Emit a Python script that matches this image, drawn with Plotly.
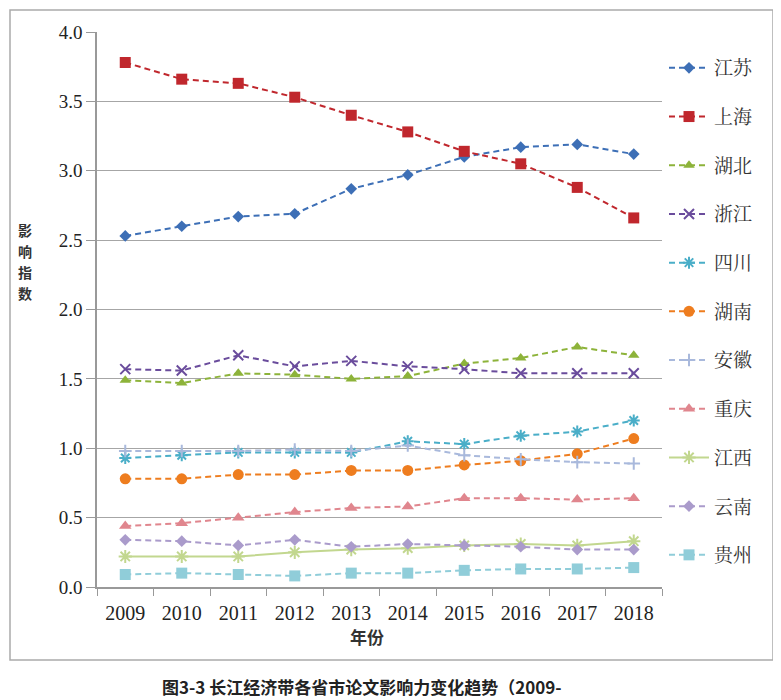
import plotly.graph_objects as go

years = ["2009", "2010", "2011", "2012", "2013", "2014", "2015", "2016", "2017", "2018"]

jiangsu = [2.53, 2.60, 2.67, 2.69, 2.87, 2.97, 3.10, 3.17, 3.19, 3.12]
shanghai = [3.78, 3.66, 3.63, 3.53, 3.40, 3.28, 3.14, 3.05, 2.88, 2.66]
hubei = [1.49, 1.47, 1.54, 1.53, 1.50, 1.52, 1.61, 1.65, 1.73, 1.67]
zhejiang = [1.57, 1.56, 1.67, 1.59, 1.63, 1.59, 1.57, 1.54, 1.54, 1.54]
sichuan = [0.93, 0.95, 0.97, 0.97, 0.97, 1.05, 1.03, 1.09, 1.12, 1.20]
hunan = [0.78, 0.78, 0.81, 0.81, 0.84, 0.84, 0.88, 0.91, 0.96, 1.07]
anhui = [0.98, 0.98, 0.98, 0.99, 0.98, 1.02, 0.95, 0.92, 0.90, 0.89]
chongqing = [0.44, 0.46, 0.50, 0.54, 0.57, 0.58, 0.64, 0.64, 0.63, 0.64]
jiangxi = [0.22, 0.22, 0.22, 0.25, 0.27, 0.28, 0.30, 0.31, 0.30, 0.33]
yunnan = [0.34, 0.33, 0.30, 0.34, 0.29, 0.31, 0.30, 0.29, 0.27, 0.27]
guizhou = [0.09, 0.10, 0.09, 0.08, 0.10, 0.10, 0.12, 0.13, 0.13, 0.14]

names = ["江苏", "上海", "湖北", "浙江", "四川", "湖南", "安徽", "重庆", "江西", "云南", "贵州"]
series = [jiangsu, shanghai, hubei, zhejiang, sichuan, hunan, anhui, chongqing, jiangxi, yunnan, guizhou]
ytitle_chars = ["影", "响", "指", "数"]

colors = ["#3d6fb6", "#c0272d", "#8db33a", "#6a4c9c", "#4aaec8", "#ee7d1f",
          "#a9b9dc", "#e0868e", "#c2d78f", "#aa9bcb", "#90cdd9"]
symbols = ["diamond", "square", "triangle-up", "x-thin-open", "asterisk-open", "circle",
           "cross-thin-open", "triangle-up", "asterisk-open", "diamond", "square"]
sizes = [9, 11, 10, 10, 10, 11, 9, 11, 11, 9, 11]
dashes = ["6px,4px"] * 8 + ["solid", "6px,4px", "6px,4px"]

# page offset of the plotly div (body margin)
OFF = 8
PL, PR, PT, PB = 97, 662, 32, 587   # plot area in page pixels
W, H = 781 - OFF, 700 - OFF
pw, ph = PR - PL, PB - PT


def px(xp):
    return (xp - PL) / pw


def py(yp):
    return (PB - yp) / ph


fig = go.Figure()
for i, (nm, vals) in enumerate(zip(names, series)):
    open_sym = symbols[i].endswith("open")
    fig.add_trace(go.Scatter(
        x=years, y=vals, name=nm, mode="lines+markers",
        legendgroup=nm,
        line=dict(color=colors[i], width=2, dash=dashes[i]),
        marker=dict(symbol=symbols[i], size=sizes[i], color=colors[i],
                    line=dict(color=colors[i], width=2 if open_sym else 0)),
    ))

serif = "Liberation Serif, DejaVu Serif, serif"
cjk = "Noto Serif CJK SC, Noto Sans CJK SC"
fig.update_layout(
    width=W, height=H,
    paper_bgcolor="white", plot_bgcolor="white",
    margin=dict(l=PL - OFF, r=781 - PR, t=PT - OFF, b=700 - PB),
    showlegend=True,
    legend=dict(x=px(664), y=py(49), xanchor="left", yanchor="top",
                font=dict(family=cjk, size=19, color="#333333"),
                tracegroupgap=21, itemwidth=40, bgcolor="rgba(0,0,0,0)"),
    xaxis=dict(type="category", range=[-0.5, 9.5], tickson="boundaries",
               ticks="outside", ticklen=7, tickcolor="#999999",
               showline=True, linecolor="#999999", linewidth=1.5, showgrid=False,
               ticklabelstandoff=7,
               tickfont=dict(family=serif, size=20, color="#222222")),
    yaxis=dict(range=[0, 4.0], dtick=0.5, tickformat=".1f",
               ticks="outside", ticklen=9, tickcolor="#999999",
               showline=True, linecolor="#999999", linewidth=1.5,
               showgrid=True, gridcolor="#a6a6a6", gridwidth=1.2, zeroline=False,
               tickfont=dict(family=serif, size=19, color="#222222")),
)

for k, ch in enumerate(ytitle_chars):
    fig.add_annotation(xref="paper", yref="paper", x=px(25), y=py(230 + 21 * k),
                       xanchor="center", yanchor="middle",
                       text="<b>" + ch + "</b>", showarrow=False,
                       font=dict(family="Noto Sans CJK SC", size=14, color="#333333"))

fig.add_annotation(xref="paper", yref="paper", x=px(367), y=py(636),
                   xanchor="center", yanchor="middle",
                   text="<b>年份</b>", showarrow=False,
                   font=dict(family="Noto Sans CJK SC", size=17, color="#333333"))

fig.add_shape(type="rect", xref="paper", yref="paper", x0=px(10), x1=px(773), y0=py(660), y1=py(10),
              line=dict(color="#aaaaaa", width=1.5), fillcolor="rgba(0,0,0,0)", layer="below")

fig.add_annotation(xref="paper", yref="paper", x=px(160), y=py(686), xanchor="left", yanchor="middle",
                   text="<b>图3-3 长江经济带各省市论文影响力变化趋势（2009-</b>", showarrow=False,
                   font=dict(family="Noto Sans CJK SC", size=17, color="#222222"))

fig.write_html("out.html")
